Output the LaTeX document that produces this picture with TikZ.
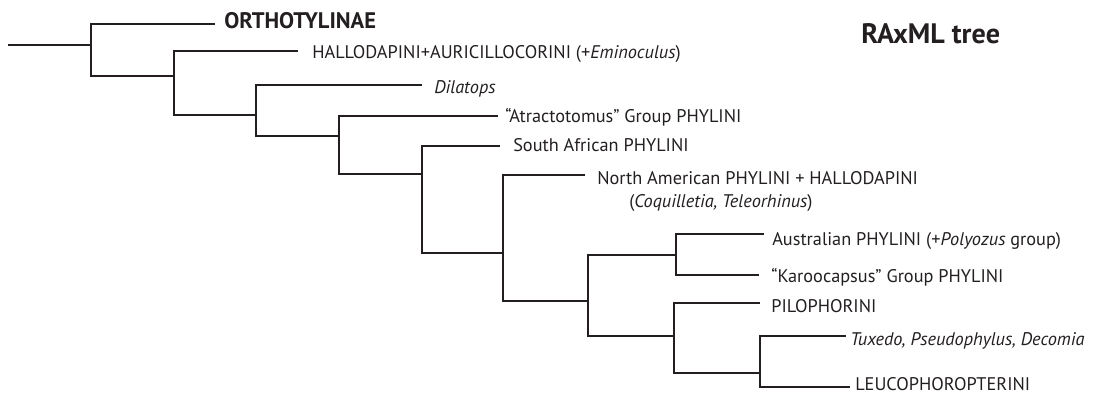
\documentclass[tikz,border=0pt]{standalone}
\usepackage{fontspec}
\setmainfont{PT Sans}
\definecolor{ink}{HTML}{231F20}
\begin{document}
\begin{tikzpicture}[x=0.025cm,y=-0.025cm]
        \tikzset{
            taxon/.style={anchor=base west, inner sep=0pt, text=ink,
              font=\fontsize{13}{16}\selectfont},
            branch/.style={draw=ink, line width=0.8pt}
          }
        \useasboundingbox (0,0) rectangle (1107,394);

        % splits
        \coordinate (root) at (8,45);
        \coordinate (n1) at (91,45);
        \coordinate (n2) at (174,76);
        \coordinate (n3) at (256,115);
        \coordinate (n4) at (339,136);
        \coordinate (n5) at (422,174);
        \coordinate (n6) at (503,253);
        \coordinate (n7) at (588,301);
        \coordinate (n8) at (676,255);
        \coordinate (n9) at (674,336);
        \coordinate (n10) at (760,373);

        % tips
        \coordinate (orth) at (215,24);
        \coordinate (hallo) at (298,51);
        \coordinate (dila) at (422,85);
        \coordinate (atra) at (498,116);
        \coordinate (safr) at (500,146);
        \coordinate (namer) at (585,175);
        \coordinate (austr) at (764,234);
        \coordinate (karoo) at (759,275);
        \coordinate (pilo) at (760,303);
        \coordinate (tuxe) at (846,336);
        \coordinate (leuco) at (850,387);

        \draw[branch] (root) -- (n1);
        \draw[branch] (n1) |- (orth);
        \draw[branch] (n1) |- (n2);
        \draw[branch] (n2) |- (hallo);
        \draw[branch] (n2) |- (n3);
        \draw[branch] (n3) |- (dila);
        \draw[branch] (n3) |- (n4);
        \draw[branch] (n4) |- (atra);
        \draw[branch] (n4) |- (n5);
        \draw[branch] (n5) |- (safr);
        \draw[branch] (n5) |- (n6);
        \draw[branch] (n6) |- (namer);
        \draw[branch] (n6) |- (n7);
        \draw[branch] (n7) |- (n8);
        \draw[branch] (n7) |- (n9);
        \draw[branch] (n8) |- (austr);
        \draw[branch] (n8) |- (karoo);
        \draw[branch] (n9) |- (pilo);
        \draw[branch] (n9) |- (n10);
        \draw[branch] (n10) |- (tuxe);
        \draw[branch] (n10) |- (leuco);

        % names
        \node[taxon, font=\fontsize{16}{19}\selectfont\bfseries] (orthlab) at (224,29) {ORTHOTYLINAE};
        \node[taxon] (hallolab) at (312,59) {HALLODAPINI+AURICILLOCORINI (+\textit{Eminoculus})};
        \node[taxon] (dilalab) at (434,94) {\textit{Dilatops}};
        \node[taxon] (atralab) at (505,122) {“Atractotomus” Group PHYLINI};
        \node[taxon] (safrlab) at (513,152) {South African PHYLINI};
        \node[taxon] (namerlab) at (597,185) {North American PHYLINI + HALLODAPINI};
        \node[taxon] (namersub) at (629,207) {(\textit{Coquilletia, Teleorhinus})};
        \node[taxon] (austrlab) at (772,245) {Australian PHYLINI (+\textit{Polyozus} group)};
        \node[taxon] (karoolab) at (771,282) {“Karoocapsus” Group PHYLINI};
        \node[taxon] (pilolab) at (771,312) {PILOPHORINI};
        \node[taxon] (tuxelab) at (850,345) {\textit{Tuxedo, Pseudophylus, Decomia}};
        \node[taxon] (leucolab) at (855,390) {LEUCOPHOROPTERINI};
        \node[taxon, font=\fontsize{20}{24}\selectfont\bfseries] (title) at (861,44) {RAxML tree};
    \end{tikzpicture}
\end{document}
